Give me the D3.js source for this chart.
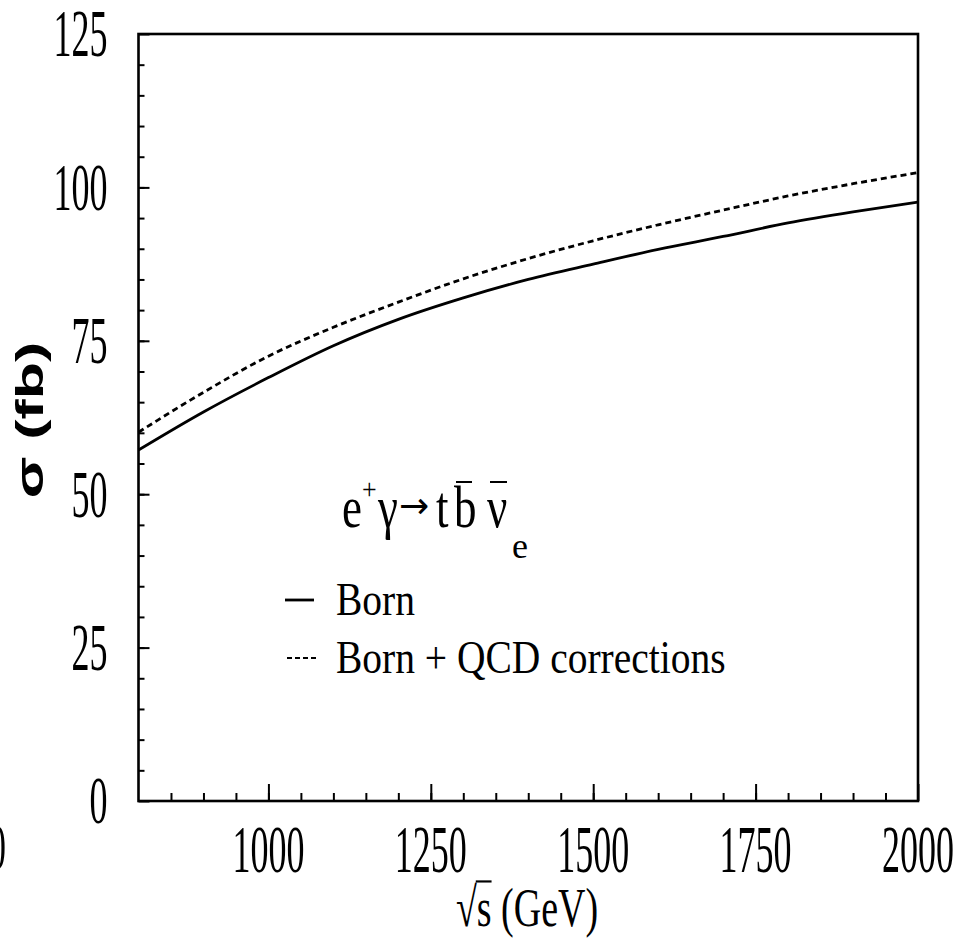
<!DOCTYPE html>
<html>
<head>
<meta charset="utf-8">
<script src="https://cdn.jsdelivr.net/npm/d3@7"></script>
<style>
  html, body { margin: 0; padding: 0; background: #fff; }
  svg { display: block; }
</style>
</head>
<body>
<svg id="chart" width="961" height="949"></svg>
<script>
// ---- data ----
const energies = [800, 900, 1000, 1100, 1200, 1300, 1400, 1500, 1600, 1700, 1800, 1900, 2000];
const bornValues = [57.2, 63.4, 69.0, 74.2, 78.5, 82.0, 85.0, 87.5, 89.9, 92.0, 94.2, 96.0, 97.6];
const qcdValues  = [60.1, 66.6, 72.5, 77.2, 81.3, 85.1, 88.4, 91.3, 93.9, 96.3, 98.6, 100.6, 102.4];
const xTickLabels = [1000, 1250, 1500, 1750, 2000];
const yTickLabels = [0, 25, 50, 75, 100, 125];
const xMinorTicks = d3.range(850, 2000, 50);
const yMinorTicks = d3.range(5, 125, 5);
const legendLabels = ["Born", "Born + QCD corrections"];

// ---- layout ----
const SERIF = "Liberation Serif";
const pL = 138.5, pR = 918, pT = 34, pB = 801;
const svg = d3.select("#chart");
const x = d3.scaleLinear().domain([800, 2000]).range([pL, pR]);
const y = d3.scaleLinear().domain([0, 125]).range([pB, pT]);

// minor ticks (inside)
svg.append("g").attr("transform", `translate(0,${pB})`)
  .call(d3.axisBottom(x).tickValues(xMinorTicks).tickSize(-8).tickFormat(""))
  .call(g => g.select(".domain").remove())
  .selectAll("line").attr("stroke", "#000").attr("stroke-width", 2);
svg.append("g").attr("transform", `translate(${pL},0)`)
  .call(d3.axisLeft(y).tickValues(yMinorTicks).tickSize(-6).tickFormat(""))
  .call(g => g.select(".domain").remove())
  .selectAll("line").attr("stroke", "#000").attr("stroke-width", 2);

// major ticks
svg.append("g").attr("transform", `translate(0,${pB})`)
  .call(d3.axisBottom(x).tickValues(xTickLabels).tickSize(-17).tickFormat(""))
  .call(g => g.select(".domain").remove())
  .selectAll("line").attr("stroke", "#000").attr("stroke-width", 2);
const yAx = svg.append("g").attr("transform", `translate(${pL},0)`)
  .call(d3.axisLeft(y).tickValues(yTickLabels).tickSize(-11).tickFormat(d3.format("d")))
  .attr("font-family", SERIF);
yAx.select(".domain").remove();
yAx.selectAll("line").attr("stroke", "#000").attr("stroke-width", 2);
yAx.selectAll("text")
  .attr("font-family", SERIF)
  .attr("font-size", 36)
  .attr("fill", "#000")
  .attr("dy", "0.33em")
  .attr("x", null)
  .attr("text-anchor", "end")
  .attr("transform", "translate(-31,0) scale(1,1.85)");

// x tick labels (tall serif)
svg.append("g").selectAll("text").data(xTickLabels).join("text")
  .attr("transform", d => `translate(${x(d)},872) scale(1,1.85)`)
  .attr("text-anchor", "middle")
  .attr("font-family", SERIF)
  .attr("font-size", 36)
  .text(d => d);
// cut-off label at far left
svg.append("text")
  .attr("transform", "translate(6,869) scale(1,1.8)")
  .attr("text-anchor", "end")
  .attr("font-family", SERIF)
  .attr("font-size", 36)
  .text("0");

// frame
svg.append("rect")
  .attr("x", pL).attr("y", pT)
  .attr("width", pR - pL).attr("height", pB - pT)
  .attr("fill", "none").attr("stroke", "#000").attr("stroke-width", 2.6);

// curves
const line = d3.line().x(d => x(d[0])).y(d => y(d[1])).curve(d3.curveMonotoneX);
svg.append("path")
  .datum(energies.map((e, i) => [e, bornValues[i]]))
  .attr("d", line).attr("fill", "none").attr("stroke", "#000").attr("stroke-width", 2.8);
svg.append("path")
  .datum(energies.map((e, i) => [e, qcdValues[i]]))
  .attr("d", line).attr("fill", "none").attr("stroke", "#000").attr("stroke-width", 2.8)
  .attr("stroke-dasharray", "6,4");

// legend: process formula
const f = svg.append("g").attr("font-family", SERIF);
function piece(txt, px, py, size, sy, fam) {
  return f.append("text").attr("transform", `translate(${px},${py}) scale(1,${sy})`)
    .attr("font-family", fam || SERIF)
    .attr("font-size", size).text(txt);
}
piece("e", 342, 527, 45, 1.3);
piece("+", 362, 499, 26, 1.1);
piece("γ", 378, 527, 45, 1.3);
piece("→", 399, 518, 36, 1.0, "DejaVu Sans");
piece("t", 436, 527, 45, 1.3);
piece("b", 454, 527, 45, 1.3);
piece("ν", 487, 527, 45, 1.3);
piece("e", 512, 558, 36, 1.0);
f.append("line").attr("x1", 456).attr("x2", 472).attr("y1", 482).attr("y2", 482)
  .attr("stroke", "#000").attr("stroke-width", 2);
f.append("line").attr("x1", 490).attr("x2", 507).attr("y1", 482).attr("y2", 482)
  .attr("stroke", "#000").attr("stroke-width", 2);

// legend entries
svg.append("line").attr("x1", 285).attr("x2", 314).attr("y1", 600).attr("y2", 600)
  .attr("stroke", "#000").attr("stroke-width", 2.8);
svg.append("line").attr("x1", 287).attr("x2", 318).attr("y1", 658).attr("y2", 658)
  .attr("stroke", "#000").attr("stroke-width", 2).attr("stroke-dasharray", "5,3");
svg.append("g").selectAll("text").data(legendLabels).join("text")
  .attr("transform", (d, i) => `translate(336,${i === 0 ? 615 : 673}) scale(1,1.15)`)
  .attr("font-family", SERIF)
  .attr("font-size", 39.5)
  .text(d => d);

// x axis title
const xt = svg.append("text")
  .attr("transform", "translate(527,926) scale(1,1.45)")
  .attr("text-anchor", "middle")
  .attr("font-family", SERIF)
  .attr("font-size", 38);
xt.append("tspan").text("√");
xt.append("tspan").text("s (GeV)");
const node = xt.node();
const ext = node.getExtentOfChar(1);
const ext0 = node.getExtentOfChar(0);
svg.append("line")
  .attr("transform", "translate(527,926) scale(1,1.45)")
  .attr("x1", ext0.x + ext0.width - 1).attr("x2", ext.x + ext.width)
  .attr("y1", ext0.y + 3).attr("y2", ext0.y + 3)
  .attr("stroke", "#000").attr("stroke-width", 1.5);

// y axis title
svg.append("text")
  .attr("transform", "translate(43,420) rotate(-90) scale(1.6,1)")
  .attr("text-anchor", "middle")
  .attr("font-family", "Liberation Sans")
  .attr("font-weight", "bold")
  .attr("font-size", 38)
  .text("σ (fb)");
</script>
</body>
</html>
